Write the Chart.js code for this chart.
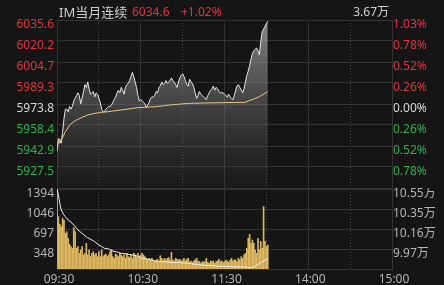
<!DOCTYPE html>
<html>
<head>
<meta charset="utf-8">
<script src="https://cdn.jsdelivr.net/npm/chart.js@4.4.0/dist/chart.umd.min.js"></script>
<style>
  body { margin: 0; background: #151515; }
  #wrap { position: relative; width: 444px; height: 285px; background: #151515; overflow: hidden;
          font-family: "Noto Sans", "Noto Sans CJK SC", sans-serif; }
  canvas { position: absolute; left: 0; }
  #priceCanvas { top: 0; }
  #volCanvas { top: 188px; }
  .hd { position: absolute; top: 3px; font-size: 12px; line-height: 18px; white-space: nowrap; }
</style>
</head>
<body>
<div id="wrap">
  <canvas id="priceCanvas" width="444" height="189"></canvas>
  <canvas id="volCanvas" width="444" height="97"></canvas>
  <div class="hd" style="left:59px;color:#cfcfcf;font-size:13px;">IM当月连续</div>
  <div class="hd" style="left:132px;color:#e0333c;">6034.6</div>
  <div class="hd" style="left:181px;color:#e0333c;">+1.02%</div>
  <div class="hd" style="right:55px;color:#cfcfcf;">3.67万</div>
</div>
<script>
// 分时价格 (每分钟, 09:30 起)
const priceValues = [
  5939, 5947, 5948, 5945, 5953, 5963, 5970, 5970, 5968, 5972,
  5970, 5972, 5976, 5978, 5980, 5982, 5980, 5974, 5978, 5983,
  5988, 5986, 5990, 5985, 5981, 5982, 5983, 5979, 5982, 5981,
  5978, 5975, 5970, 5968, 5968, 5970, 5971, 5972, 5972, 5973,
  5975, 5977, 5979, 5982, 5984, 5982, 5986, 5984, 5981, 5986,
  5988, 5989, 5991, 5994, 5997, 5994, 5990, 5986, 5980, 5976,
  5977, 5976, 5975, 5974, 5971, 5973, 5975, 5978, 5979, 5979,
  5980, 5983, 5982, 5986, 5987, 5990, 5988, 5989, 5991, 5989,
  5990, 5991, 5993, 5991, 5990, 5988, 5986, 5990, 5993, 5995,
  5996, 5994, 5991, 5988, 5987, 5992, 5990, 5989, 5986, 5982,
  5978, 5980, 5983, 5981, 5980, 5979, 5978, 5977, 5980, 5982,
  5984, 5985, 5987, 5984, 5986, 5985, 5983, 5982, 5982, 5982,
  5981, 5980, 5979, 5981, 5979, 5978, 5977, 5980, 5984, 5987,
  5988, 5986, 5984, 5982, 5985, 5990, 5995, 5998, 6002, 6007,
  6011, 6013, 6014, 6015, 6013, 6010, 6020, 6027, 6029, 6031,
  6033, 6034.6
];
// 均价线
const avgMinutes = [0, 1, 2, 3, 5, 6, 7, 9, 12, 14, 18, 22, 27, 32, 37, 46, 58, 70, 77, 81, 95, 119, 135, 137, 141, 145, 149, 151];
const avgValues = [5941.0, 5948.5, 5944.9, 5947.3, 5951.0, 5953.5, 5954.7, 5958.4, 5960.8, 5962.0, 5964.0, 5965.7, 5966.9, 5967.7,
  5968.2, 5969.4, 5971.1, 5971.8, 5972.6, 5973.1, 5974.3, 5974.8, 5975.0, 5976.0, 5977.5, 5979.2, 5981.7, 5982.9];
// 成交量 (手)
const volValues = [
  1394, 912, 779, 738, 883, 850, 622, 650, 535, 430,
  389, 360, 720, 650, 360, 389, 273, 331, 389, 244,
  273, 447, 244, 331, 215, 273, 302, 244, 273, 215,
  302, 215, 331, 215, 244, 260, 215, 244, 302, 331,
  215, 186, 260, 244, 215, 273, 244, 215, 244, 186,
  273, 215, 200, 244, 186, 273, 244, 215, 273, 215,
  244, 273, 244, 215, 186, 157, 186, 157, 186, 157,
  140, 157, 170, 128, 230, 186, 157, 186, 157, 186,
  200, 157, 290, 157, 140, 186, 170, 157, 170, 140,
  157, 186, 140, 170, 186, 128, 140, 115, 140, 157,
  186, 140, 128, 99, 128, 115, 140, 186, 115, 99,
  140, 128, 140, 99, 128, 140, 170, 128, 140, 115,
  128, 157, 140, 115, 157, 186, 140, 157, 157, 128,
  186, 157, 215, 186, 244, 273, 360, 535, 604, 447,
  505, 447, 331, 273, 535, 331, 480, 360, 1086, 480,
  389, 418
];
// 持仓量 (万)
const oiMinutes = [0, 1, 2, 3, 5, 6, 8, 11, 13, 15, 18, 20, 22, 25, 27, 30, 32, 34, 37, 40, 44, 46, 50, 54, 57, 61, 64, 68, 70, 75,
  82, 89, 94, 99, 104, 111, 118, 128, 135, 138, 141, 143, 145, 148, 150, 151];
const oiValues = [10.550, 10.492, 10.411, 10.347, 10.299, 10.282, 10.250, 10.218, 10.186, 10.154, 10.121, 10.099, 10.079, 10.057,
  10.041, 10.009, 9.993, 9.977, 9.971, 9.951, 9.938, 9.928, 9.922, 9.912, 9.906, 9.880, 9.873, 9.864, 9.854, 9.848,
  9.841, 9.838, 9.832, 9.822, 9.815, 9.809, 9.802, 9.799, 9.796, 9.789, 9.796, 9.815, 9.832, 9.854, 9.873, 9.873];

// 刻度
const preClose = 5973.8;
const priceTicks = [5912.0, 5927.5, 5942.9, 5958.4, 5973.8, 5989.3, 6004.7, 6020.2, 6035.6];
const priceLabels = [null, '5927.5', '5942.9', '5958.4', '5973.8', '5989.3', '6004.7', '6020.2', '6035.6'];
const pctLabels = [null, '0.78%', '0.52%', '0.26%', '0.00%', '0.26%', '0.52%', '0.78%', '1.03%'];
const volTicks = [0, 348.5, 697, 1045.5, 1394];
const volLabels = [null, '348', '697', '1046', '1394'];
const oiTicks = [9.777, 9.970, 10.163, 10.357, 10.55];
const oiLabels = [null, '9.97万', '10.16万', '10.35万', '10.55万'];
const timeTicks = [0, 30, 60, 90, 120, 150, 180, 210, 240];
const timeLabels = ['09:30', '', '10:30', '', '11:30', '', '14:00', '', '15:00'];

const tickFont = { family: '"Noto Sans", "Noto Sans CJK SC", sans-serif', size: 12 };
const gridColor = '#333333';

// 涨红跌绿
function sideColor(c) {
  const v = c.tick ? c.tick.value : preClose;
  if (v > preClose + 0.01) return '#e0333c';
  if (v < preClose - 0.01) return '#2bb24c';
  return '#d8d8d8';
}

function timeAxis(showLabels) {
  return {
    type: 'linear',
    min: 0,
    max: 240,
    offset: false,
    afterBuildTicks: (s) => { s.ticks = timeTicks.map((v) => ({ value: v })); },
    afterFit: (s) => { s.height = showLabels ? 16 : 0; s.paddingLeft = 0; s.paddingRight = 0; },
    grid: { offset: false, drawTicks: false, color: (c) => (c.index % 2 ? '#4a4a4a' : gridColor) },
    border: { color: gridColor, dash: (c) => (c.index % 2 ? [1, 2] : []) },
    ticks: {
      display: showLabels, color: '#b5b5b5', font: tickFont, padding: 3, labelOffset: 2,
      maxRotation: 0, autoSkip: false, callback: (v, i) => timeLabels[i]
    }
  };
}

function valueAxis(pos, min, max, ticks, labels, colorFn, width) {
  return {
    position: pos,
    min: min,
    max: max,
    afterBuildTicks: (s) => { s.ticks = ticks.map((v) => ({ value: v })); },
    afterFit: (s) => { s.width = width; s.paddingTop = 0; s.paddingBottom = 0; },
    grid: { color: gridColor, drawTicks: false, drawOnChartArea: pos === 'left' },
    border: { color: gridColor },
    ticks: {
      padding: pos === 'left' ? 3 : 1, labelOffset: 5, font: tickFont, autoSkip: false,
      color: colorFn, callback: (v, i) => labels[i]
    }
  };
}

// 价格图
new Chart(document.getElementById('priceCanvas'), {
  type: 'line',
  data: {
    datasets: [
      {
        data: avgMinutes.map((m, i) => ({ x: m, y: avgValues[i] })),
        borderColor: '#e6c77f', borderWidth: 1, pointRadius: 0, fill: false, order: 0
      },
      {
        data: priceValues.map((v, i) => ({ x: i, y: v })),
        borderColor: '#e6e6e6', borderWidth: 1, pointRadius: 0, fill: 'start', order: 1,
        backgroundColor: (c) => {
          const a = c.chart.chartArea;
          if (!a) return 'rgba(120,120,120,0.3)';
          const g = c.chart.ctx.createLinearGradient(0, a.top, 0, a.bottom);
          g.addColorStop(0, 'rgba(175,175,175,0.75)');
          g.addColorStop(1, 'rgba(90,90,90,0.08)');
          return g;
        }
      }
    ]
  },
  options: {
    responsive: false,
    animation: false,
    layout: { padding: { top: 20, bottom: 1, left: 0, right: 0 } },
    plugins: { legend: { display: false }, tooltip: { enabled: false } },
    scales: {
      x: timeAxis(false),
      y: valueAxis('left', 5912.0, 6035.6, priceTicks, priceLabels, sideColor, 57),
      yr: valueAxis('right', 5912.0, 6035.6, priceTicks, pctLabels, sideColor, 52)
    }
  }
});

// 成交量 / 持仓量
new Chart(document.getElementById('volCanvas'), {
  type: 'bar',
  data: {
    datasets: [
      {
        type: 'line', yAxisID: 'yr',
        data: oiMinutes.map((m, i) => ({ x: m, y: oiValues[i] })),
        borderColor: '#eeeeee', borderWidth: 1, pointRadius: 0, fill: false, order: 0
      },
      {
        type: 'bar', yAxisID: 'y',
        data: volValues.map((v, i) => ({ x: i, y: v })),
        backgroundColor: '#dcb75e', barThickness: 1, order: 1
      }
    ]
  },
  options: {
    responsive: false,
    animation: false,
    layout: { padding: { top: 1, bottom: 0, left: 0, right: 0 } },
    plugins: { legend: { display: false }, tooltip: { enabled: false } },
    scales: {
      x: timeAxis(true),
      y: valueAxis('left', 0, 1394, volTicks, volLabels, () => '#b5b5b5', 57),
      yr: valueAxis('right', 9.777, 10.55, oiTicks, oiLabels, () => '#b5b5b5', 52)
    }
  }
});
</script>
</body>
</html>
